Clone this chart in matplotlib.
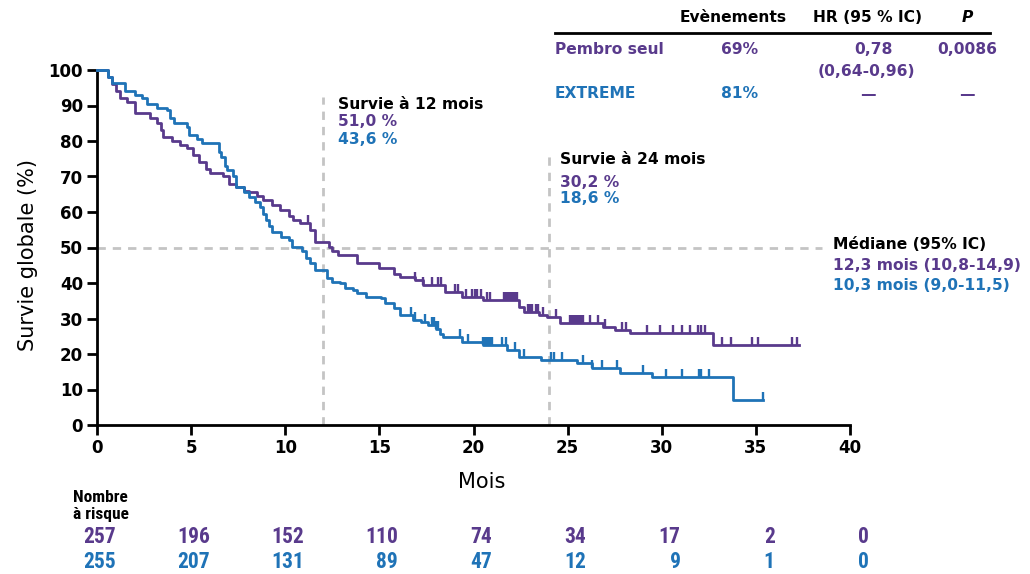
import numpy as np
import matplotlib
matplotlib.use('Agg')
import matplotlib.pyplot as plt
from matplotlib.path import Path
from matplotlib import font_manager

PURPLE = '#593a8c'
BLUE = '#1f73b7'
GREY = '#c4c4c4'

# Pembro seul: step times (mois) and survival (%) after each step
pembro_t = [0, 0.6, 0.8, 1.0, 1.2, 1.6, 2.0, 2.8, 3.2, 3.4, 3.5, 4.0, 4.4, 4.8, 5.1, 5.4,
            5.8, 6.0, 6.7, 7.0, 7.4, 7.8, 8.1, 8.5, 8.8, 9.3, 9.7, 10.2, 10.4, 10.8, 11.3,
            11.6, 12.3, 12.5, 12.8, 13.8, 15.0, 15.8, 16.1, 16.9, 17.3, 18.5, 19.4, 20.5,
            22.4, 22.7, 23.5, 23.9, 24.6, 26.9, 27.5, 28.3, 32.7, 37.3]
pembro_s = [100, 98, 96, 94, 92, 91, 88, 86.5, 85, 83, 81, 80, 79, 78, 76, 74,
            72, 71, 70, 68, 67, 66, 65.5, 64.5, 63.5, 62, 60.5, 59, 57.7, 57, 55,
            51.5, 50.2, 49, 47.9, 45.6, 44.2, 42.5, 41.7, 40.8, 39.4, 37.5, 36.1, 35.2,
            33.2, 31.8, 31.0, 30.4, 28.7, 27.6, 26.8, 25.9, 22.5, 22.5]
pembro_cens = [11.2, 16.9, 17.3, 17.8, 18.1, 18.3, 19.0, 19.2, 19.6, 19.9, 20.1, 20.2, 20.4,
               20.7, 20.9, 21.6, 21.7, 21.8, 21.9, 22.0, 22.1, 22.2, 22.3, 22.9, 23.0, 23.1,
               23.3, 23.4, 23.7, 24.4, 25.1, 25.2, 25.3, 25.4, 25.5, 25.6, 25.7, 25.8, 26.2,
               26.6, 27.0, 27.9, 28.1, 29.2, 29.9, 30.6, 31.1, 31.5, 31.9, 32.1, 32.3, 33.2,
               33.7, 34.8, 35.1, 36.9, 37.2]

# EXTREME
extreme_t = [0, 0.6, 0.8, 1.5, 2.0, 2.4, 2.65, 3.2, 3.7, 3.9, 4.1, 4.8, 4.9, 5.3, 5.6, 6.5, 6.6,
             6.8, 6.9, 7.2, 7.4, 7.8, 8.1, 8.4, 8.65, 8.8, 9.0, 9.15, 9.3, 9.8, 10.2, 10.35,
             10.9, 11.1, 11.3, 11.6, 12.2, 12.5, 12.9, 13.2, 13.6, 13.8, 14.3, 15.1, 15.3,
             15.8, 16.1, 16.8, 17.2, 17.6, 18.0, 18.2, 18.4, 19.4, 20.5, 21.8, 22.4, 23.6,
             25.5, 26.3, 27.8, 29.5, 33.8, 35.4]
extreme_s = [100, 98, 96.3, 94, 93, 92, 90.5, 89.3, 88.7, 86.5, 85, 84, 81.7, 80.5, 79.4, 77, 75.5,
             73, 71.8, 70, 67, 65.5, 64.2, 62.8, 61.4, 59.5, 57.7, 56, 54.4, 52.9, 52.0, 50.1,
             49, 47, 45.5, 43.7, 41.4, 40.3, 40.0, 38.6, 38.0, 37.2, 36.1, 35.8, 34.4,
             33.0, 31.0, 29.6, 29.0, 28.2, 27, 25.5, 24.8, 23.4, 22.5, 21.1, 19.2, 18.3,
             17.5, 16.1, 14.6, 13.5, 7.0, 7.0]
extreme_cens = [16.7, 16.9, 17.4, 17.8, 17.9, 18.0, 18.1, 19.3, 19.7, 20.5, 20.6, 20.7, 20.8,
                20.9, 21.0, 21.5, 21.7, 22.2, 22.7, 24.1, 24.3, 24.7, 25.8, 26.3, 26.8, 27.6,
                29.0, 30.2, 31.1, 32.0, 32.1, 32.5, 35.4]

risk_times = [0, 5, 10, 15, 20, 25, 30, 35, 40]
risk_pembro = [257, 196, 152, 110, 74, 34, 17, 2, 0]
risk_extreme = [255, 207, 131, 89, 47, 12, 9, 1, 0]

W, H = 1030, 574
fig = plt.figure(figsize=(W / 100, H / 100), dpi=100)
ax = fig.add_axes([97 / W, 1 - 425 / H, (850 - 97) / W, (425 - 70) / H])


def px(x, y):
    return x / W, 1 - y / H


def step_value(times, surv, t):
    i = np.searchsorted(times, t, side='right') - 1
    return np.asarray(surv)[i]


tick_marker = Path([[0, 0], [0, 1]], [Path.MOVETO, Path.LINETO])

# reference lines
ax.plot([12, 12], [0, 92.4], color=GREY, lw=2, ls=(0, (3, 2.5)), zorder=1, clip_on=False)
ax.plot([24, 24], [0, 77.2], color=GREY, lw=2, ls=(0, (3, 2.5)), zorder=1, clip_on=False)
ax.plot([0, 38.5], [50, 50], color=GREY, lw=2, ls=(0, (3, 2.5)), zorder=1, clip_on=False)

for t, s, c, col in [(pembro_t, pembro_s, pembro_cens, PURPLE),
                     (extreme_t, extreme_s, extreme_cens, BLUE)]:
    ax.plot(t, s, drawstyle='steps-post', color=col, lw=2.0, clip_on=False, zorder=3)
    cy = [step_value(t, s, x) for x in c]
    ax.plot(c, cy, ls='none', marker=tick_marker, ms=12, mew=1.7, color=col,
            clip_on=False, zorder=3)

ax.set_xlim(0, 40)
ax.set_ylim(0, 100)
ax.set_xticks(range(0, 41, 5))
ax.set_yticks(range(0, 101, 10))
for sp in ['top', 'right']:
    ax.spines[sp].set_visible(False)
for sp in ['left', 'bottom']:
    ax.spines[sp].set_linewidth(2)
ax.tick_params(direction='out', length=7, width=2, labelsize=12, pad=3)
for lab in ax.get_xticklabels() + ax.get_yticklabels():
    lab.set_fontweight('bold')

fig.text(*px(28, 255), 'Survie globale (%)', rotation=90, ha='center', va='center', fontsize=15)
fig.text(*px(482, 482), 'Mois', ha='center', va='center', fontsize=15)

fs = 11.2
# survival annotations
fig.text(*px(338, 105), 'Survie à 12 mois', ha='left', va='center', fontsize=fs, fontweight='bold')
fig.text(*px(338, 122), '51,0 %', ha='left', va='center', fontsize=fs, fontweight='bold', color=PURPLE)
fig.text(*px(338, 139), '43,6 %', ha='left', va='center', fontsize=fs, fontweight='bold', color=BLUE)
fig.text(*px(560, 160), 'Survie à 24 mois', ha='left', va='center', fontsize=fs, fontweight='bold')
fig.text(*px(560, 182), '30,2 %', ha='left', va='center', fontsize=fs, fontweight='bold', color=PURPLE)
fig.text(*px(560, 199), '18,6 %', ha='left', va='center', fontsize=fs, fontweight='bold', color=BLUE)
fig.text(*px(833, 245), 'Médiane (95% IC)', ha='left', va='center', fontsize=fs, fontweight='bold')
fig.text(*px(833, 265), '12,3 mois (10,8-14,9)', ha='left', va='center', fontsize=fs, fontweight='bold', color=PURPLE)
fig.text(*px(833, 285), '10,3 mois (9,0-11,5)', ha='left', va='center', fontsize=fs, fontweight='bold', color=BLUE)

# top-right table
fig.text(*px(733, 18), 'Evènements', ha='center', va='center', fontsize=fs, fontweight='bold')
fig.text(*px(868, 18), 'HR (95 % IC)', ha='center', va='center', fontsize=fs, fontweight='bold')
fig.text(*px(967, 18), 'P', ha='center', va='center', fontsize=fs, fontweight='bold', style='italic')
fig.add_artist(plt.Line2D([555 / W, 990 / W], [1 - 33 / H, 1 - 33 / H], color='black', lw=2))
fig.text(*px(555, 50), 'Pembro seul', ha='left', va='center', fontsize=fs, fontweight='bold', color=PURPLE)
fig.text(*px(740, 50), '69%', ha='center', va='center', fontsize=fs, fontweight='bold', color=PURPLE)
fig.text(*px(873, 50), '0,78', ha='center', va='center', fontsize=fs, fontweight='bold', color=PURPLE)
fig.text(*px(967, 50), '0,0086', ha='center', va='center', fontsize=fs, fontweight='bold', color=PURPLE)
fig.text(*px(866, 72), '(0,64-0,96)', ha='center', va='center', fontsize=fs, fontweight='bold', color=PURPLE)
fig.text(*px(555, 94), 'EXTREME', ha='left', va='center', fontsize=fs, fontweight='bold', color=BLUE)
fig.text(*px(740, 94), '81%', ha='center', va='center', fontsize=fs, fontweight='bold', color=BLUE)
fig.text(*px(868, 94), '—', ha='center', va='center', fontsize=fs, fontweight='bold', color=PURPLE)
fig.text(*px(967, 94), '—', ha='center', va='center', fontsize=fs, fontweight='bold', color=PURPLE)

# number at risk: prefer a narrow face if one is installed
installed = {f.name for f in font_manager.fontManager.ttflist}
narrow = None
for name in ['Liberation Sans Narrow', 'Roboto Condensed', 'Open Sans Condensed', 'DejaVu Sans Condensed']:
    if name in installed:
        narrow = name
        break
if narrow:
    fam, num_fs, lab_fs = [narrow, 'DejaVu Sans'], 15.5, 12.5
else:
    fam, num_fs, lab_fs = ['DejaVu Sans'], 12.5, 10.5

fig.text(*px(73, 506), 'Nombre\nà risque', ha='left', va='center', fontsize=lab_fs,
         fontweight='bold', family=fam, linespacing=1.1)
for t, a, b in zip(risk_times, risk_pembro, risk_extreme):
    xf = ax.transData.transform((t + 1.0, 0))[0] / W
    fig.text(xf, 1 - 537 / H, str(a), ha='right', va='center', fontsize=num_fs,
             fontweight='bold', family=fam, color=PURPLE)
    fig.text(xf, 1 - 562 / H, str(b), ha='right', va='center', fontsize=num_fs,
             fontweight='bold', family=fam, color=BLUE)

fig.savefig('out.png', dpi=100)
